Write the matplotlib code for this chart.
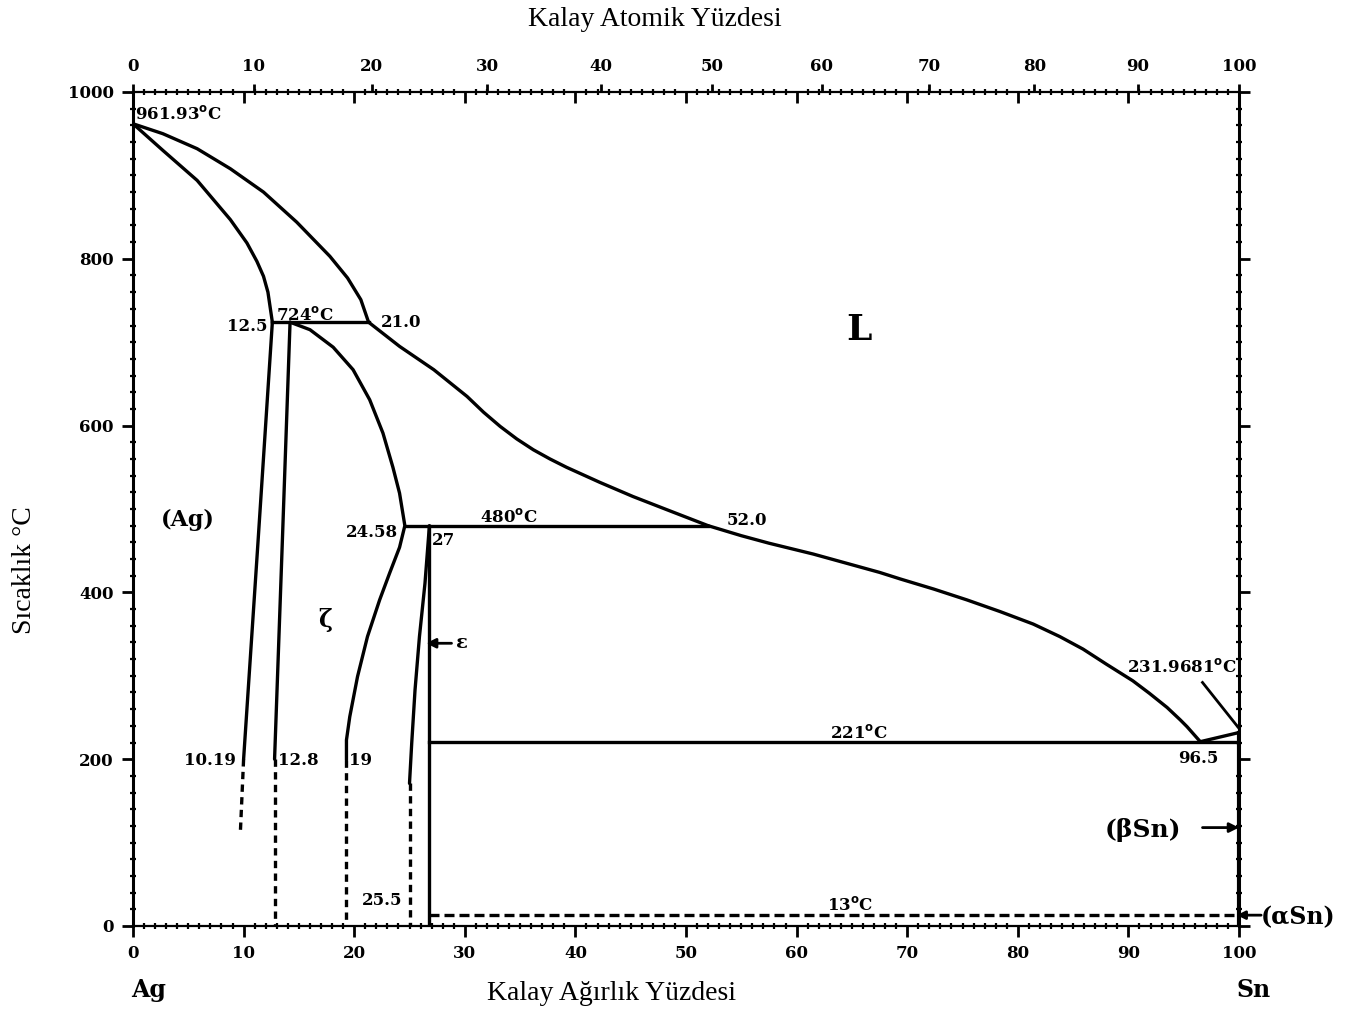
import numpy as np
import matplotlib.pyplot as plt
from matplotlib.ticker import MultipleLocator

# Ag-Sn faz diyagrami (agirlik % Sn, sicaklik C)
liq_ag_x = [0, 2.7, 5.8, 8.8, 11.8, 14.8, 17.8, 19.4, 20.6, 21.3]
liq_ag_t = [961.93, 950, 932, 908, 880, 844, 803, 777, 751, 724]

liq_mid_x = [21.3, 24.1, 27.2, 30.2, 31.7, 33.2, 34.7, 36.2, 37.7, 39.2,
             42.2, 45.2, 48.3, 52.0]
liq_mid_t = [724, 695, 667, 635, 616, 599, 584, 571, 560, 550,
             532, 515, 499, 480]

liq_sn_x = [52.0, 55.0, 57.5, 61.5, 67.5, 69.4, 72.4, 75.4, 78.4, 81.4,
            83.8, 85.9, 88.0, 90.4, 91.9, 93.5, 94.7, 95.3, 96.5]
liq_sn_t = [480, 468, 459, 446, 424, 416, 404, 391, 377, 362,
            347, 332, 314, 294, 279, 262, 247, 239, 221]

liq_end_x = [96.5, 100]
liq_end_t = [221, 231.97]

sol_ag_x = [0, 2.7, 5.8, 8.8, 10.3, 11.2, 11.8, 12.2, 12.6]
sol_ag_t = [961.93, 930, 894, 847, 819, 797, 779, 760, 724]

solv_ag_x = [12.6, 11.3, 10.0]
solv_ag_t = [724, 460, 200]
solv_ag_dash_x = [10.0, 9.7]
solv_ag_dash_t = [200, 110]

zeta_l_x = [14.2, 13.5, 12.8]
zeta_l_t = [724, 460, 200]
zeta_l_dash_x = [12.8, 12.8]
zeta_l_dash_t = [200, 0]

zeta_r_x = [14.2, 16.0, 18.1, 19.9, 21.4, 22.6, 23.5, 24.1, 24.58,
            24.1, 23.2, 22.3, 21.2, 20.3, 19.6, 19.3, 19.3]
zeta_r_t = [724, 715, 694, 667, 631, 591, 550, 519, 480,
            454, 423, 391, 347, 299, 251, 223, 199]
zeta_r_dash_x = [19.3, 19.3]
zeta_r_dash_t = [199, 0]

eps_l_x = [26.8, 26.4, 25.9, 25.5, 25.2, 25.0]
eps_l_t = [480, 411, 347, 283, 219, 171]
eps_l_dash_x = [25.0, 25.0]
eps_l_dash_t = [171, 0]

eps_x = 26.8

# izotermler: (sol, sag, sicaklik)
iso_724 = (12.6, 21.3, 724)
iso_480 = (24.58, 52.0, 480)
iso_221 = (eps_x, 100, 221)
iso_13 = (eps_x, 100, 13)

sn_melt = 231.9681

top_at_ticks = [0, 10, 20, 30, 40, 50, 60, 70, 80, 90, 100]
M_AG, M_SN = 107.87, 118.71


def wt2at(w):
    w = np.clip(np.asarray(w, dtype=float), 0, 100)
    a = w / M_SN
    b = (100 - w) / M_AG
    return 100 * a / np.where(a + b == 0, 1, a + b)


def at2wt(a):
    a = np.clip(np.asarray(a, dtype=float), 0, 100)
    w = a * M_SN
    b = (100 - a) * M_AG
    return 100 * w / np.where(w + b == 0, 1, w + b)


fig = plt.figure(figsize=(13.5, 10.15), dpi=100)
ax = fig.add_axes([133 / 1350, 89 / 1015, 1106 / 1350, 834 / 1015])
ax.set_xlim(0, 100)
ax.set_ylim(0, 1000)

lw = 2.4
k = 'black'
dash = (0, (2.2, 1.6))
solid = dict(color=k, lw=lw, solid_joinstyle='round', solid_capstyle='round')

ax.plot(liq_ag_x, liq_ag_t, **solid)
ax.plot(liq_mid_x, liq_mid_t, **solid)
ax.plot(liq_sn_x, liq_sn_t, **solid)
ax.plot(liq_end_x, liq_end_t, **solid)
ax.plot(sol_ag_x, sol_ag_t, **solid)
ax.plot(solv_ag_x, solv_ag_t, **solid)
ax.plot(solv_ag_dash_x, solv_ag_dash_t, color=k, lw=lw, ls=dash)
ax.plot(zeta_l_x, zeta_l_t, **solid)
ax.plot(zeta_l_dash_x, zeta_l_dash_t, color=k, lw=lw, ls=dash)
ax.plot(zeta_r_x, zeta_r_t, **solid)
ax.plot(zeta_r_dash_x, zeta_r_dash_t, color=k, lw=lw, ls=dash)
ax.plot(eps_l_x, eps_l_t, **solid)
ax.plot(eps_l_dash_x, eps_l_dash_t, color=k, lw=lw, ls=dash)
ax.plot([eps_x, eps_x], [480, 0], color=k, lw=lw)
ax.plot([100, 100], [0, sn_melt], color=k, lw=lw + 0.6)

for x0, x1, t in (iso_724, iso_480, iso_221):
    ax.plot([x0, x1], [t, t], color=k, lw=lw)
ax.plot([iso_13[0], iso_13[1]], [iso_13[2], iso_13[2]], color=k, lw=lw,
        ls=(0, (3, 1.5)))

# sn erime noktasi isaret cizgisi
ax.plot([96.7, 100], [292, 237], color=k, lw=2)

sf = 'DejaVu Serif'
lab = dict(family=sf, fontweight='bold', fontsize=12, color=k)
ax.text(0.2, 974, '961.93$^{\\mathbf{o}}$C', ha='left', va='center', **lab)
ax.text(12.2, 719, '12.5', ha='right', va='center', **lab)
ax.text(12.9, 733, '724$^{\\mathbf{o}}$C', ha='left', va='center', **lab)
ax.text(22.4, 724, '21.0', ha='left', va='center', **lab)
ax.text(65.6, 715, 'L', ha='center', va='center', family=sf,
        fontweight='bold', fontsize=26)
ax.text(5.0, 487, '(Ag)', ha='center', va='center', family=sf,
        fontweight='bold', fontsize=16)
ax.text(24.0, 472, '24.58', ha='right', va='center', **lab)
ax.text(31.4, 490, '480$^{\\mathbf{o}}$C', ha='left', va='center', **lab)
ax.text(53.7, 486, '52.0', ha='left', va='center', **lab)
ax.text(27.0, 462, '27', ha='left', va='center', **lab)
ax.text(17.4, 367, '\u03b6', ha='center', va='center', family=sf,
        fontweight='bold', fontsize=17)
ax.text(29.7, 339, '\u03b5', ha='center', va='center', family=sf,
        fontweight='bold', fontsize=14)
ax.annotate('', xy=(26.5, 339), xytext=(28.8, 339),
            arrowprops=dict(arrowstyle='-|>', color=k, lw=2,
                            mutation_scale=14, shrinkA=0, shrinkB=0))
ax.text(89.9, 311, '231.9681$^{\\mathbf{o}}$C', ha='left', va='center', **lab)
ax.text(65.6, 231, '221$^{\\mathbf{o}}$C', ha='center', va='center', **lab)
ax.text(96.3, 201, '96.5', ha='center', va='center', **lab)
ax.text(9.3, 199, '10.19', ha='right', va='center', **lab)
ax.text(13.1, 199, '12.8', ha='left', va='center', **lab)
ax.text(19.5, 199, '19', ha='left', va='center', **lab)
ax.text(24.4, 31, '25.5', ha='right', va='center', **lab)
ax.text(64.8, 25, '13$^{\\mathbf{o}}$C', ha='center', va='center', **lab)
ax.text(91.3, 115, '(\u03b2Sn)', ha='center', va='center', family=sf,
        fontweight='bold', fontsize=18)
ax.annotate('', xy=(100, 118), xytext=(96.7, 118),
            arrowprops=dict(arrowstyle='-|>', color=k, lw=2,
                            mutation_scale=14, shrinkA=0, shrinkB=0))
ax.text(102.0, 10, '(\u03b1Sn)', ha='left', va='center', family=sf,
        fontweight='bold', fontsize=17, clip_on=False)
ax.annotate('', xy=(99.8, 13), xytext=(102.0, 13),
            arrowprops=dict(arrowstyle='-|>', color=k, lw=2,
                            mutation_scale=12, shrinkA=0, shrinkB=0),
            annotation_clip=False)

ax.text(1.4, -77, 'Ag', ha='center', va='center', family=sf,
        fontweight='bold', fontsize=17, clip_on=False)
ax.text(101.3, -77, 'Sn', ha='center', va='center', family=sf,
        fontweight='bold', fontsize=17, clip_on=False)

# eksenler
for s in ('left', 'right'):
    ax.spines[s].set_linewidth(2.2)
for s in ('top', 'bottom'):
    ax.spines[s].set_linewidth(1.6)
    ax.spines[s].set_linestyle((0, (3, 1)))

ax.xaxis.set_major_locator(MultipleLocator(10))
ax.xaxis.set_minor_locator(MultipleLocator(1))
ax.yaxis.set_major_locator(MultipleLocator(200))
ax.yaxis.set_minor_locator(MultipleLocator(20))
ax.tick_params(which='major', direction='out', length=8, width=2,
               left=True, right=True, bottom=True, top=False, pad=6)
ax.tick_params(which='minor', direction='inout', length=5, width=1.6,
               left=True, right=True, bottom=True, top=False)
for t in ax.get_xticklabels() + ax.get_yticklabels():
    t.set_family(sf)
    t.set_fontweight('bold')
    t.set_fontsize(12)

# ust eksen: agirlik % (ice dogru) ve atomik % (etiketli)
top_wt = ax.secondary_xaxis('top')
top_wt.xaxis.set_major_locator(MultipleLocator(10))
top_wt.xaxis.set_minor_locator(MultipleLocator(1))
top_wt.tick_params(which='major', direction='in', length=8, width=2,
                   labeltop=False)
top_wt.tick_params(which='minor', direction='inout', length=5, width=1.6)
top_wt.spines['top'].set_visible(False)

top_at = ax.secondary_xaxis('top', functions=(wt2at, at2wt))
top_at.set_xticks(top_at_ticks)
top_at.xaxis.set_minor_locator(plt.NullLocator())
top_at.tick_params(which='major', direction='out', length=6, width=2, pad=6)
top_at.spines['top'].set_visible(False)
for t in top_at.get_xticklabels():
    t.set_family(sf)
    t.set_fontweight('bold')
    t.set_fontsize(12)

tf = 'Liberation Serif'
fig.text(655 / 1350, 1 - 20 / 1015, 'Kalay Atomik Yüzdesi', ha='center',
         va='center', family=tf, fontsize=20)
fig.text(612 / 1350, 1 - 993 / 1015, 'Kalay Ağırlık Yüzdesi', ha='center',
         va='center', family=tf, fontsize=20)
fig.text(25 / 1350, 1 - 570 / 1015, 'Sıcaklık °C', ha='center',
         va='center', family=tf, fontsize=20, rotation=90)

fig.savefig('out.png', dpi=100)
